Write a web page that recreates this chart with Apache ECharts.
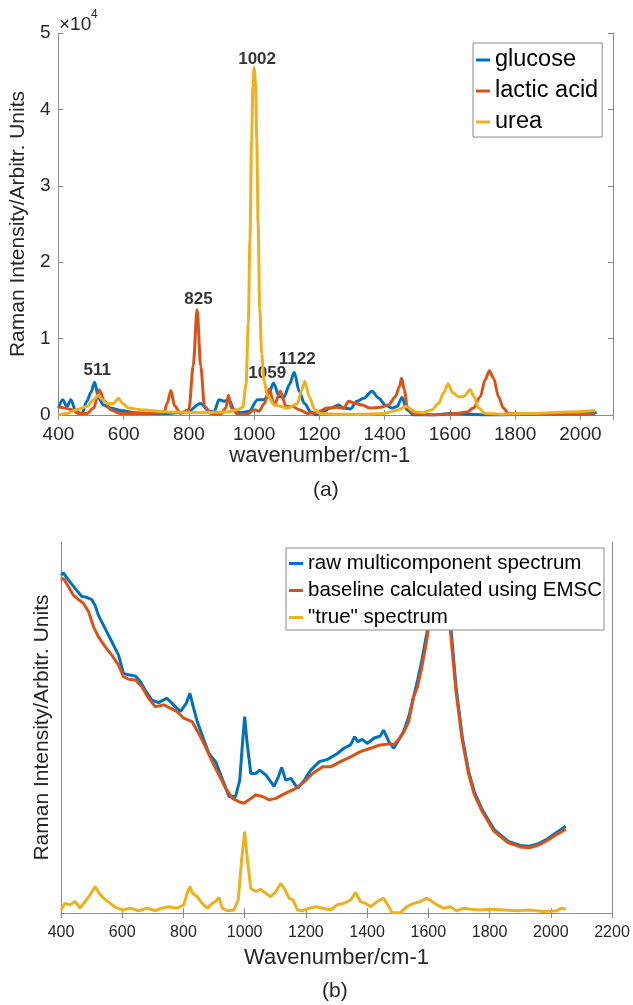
<!DOCTYPE html>
<html>
<head>
<meta charset="utf-8">
<script src="https://cdn.jsdelivr.net/npm/echarts@6/dist/echarts.min.js"></script>
<style>
html,body{margin:0;padding:0;background:#fff;}
#chart{width:633px;height:1005px;}
</style>
</head>
<body>
<div id="chart"></div>
<script>
// (a) reference spectra, intensity in units of 1e4
var glucose = [[400,0.09],[413,0.2],[426,0.11],[438,0.2],[454,0.04],[472,0.02],[487,0.18],[499,0.29],[511,0.43],[523,0.22],[538,0.13],[559,0.09],[590,0.06],[631,0.03],[682,0.02],[733,0.02],[795,0.04],[835,0.15],[862,0.05],[877,0.04],[892,0.2],[908,0.18],[923,0.2],[938,0.07],[959,0.03],[985,0.05],[1010,0.2],[1031,0.2],[1046,0.29],[1059,0.42],[1077,0.24],[1092,0.24],[1108,0.4],[1123,0.56],[1138,0.31],[1154,0.15],[1174,0.04],[1190,0.0],[1203,0.03],[1234,0.09],[1259,0.13],[1274,0.09],[1295,0.08],[1315,0.18],[1336,0.22],[1361,0.31],[1382,0.22],[1402,0.13],[1422,0.09],[1438,0.11],[1453,0.23],[1468,0.07],[1489,0.0],[1550,0.0],[1601,0.02],[1652,0.01],[1703,0.0],[1754,0.0],[1850,0.01],[1950,0.02],[2050,0.03]];
var lactic = [[400,0.11],[420,0.09],[441,0.07],[462,0.02],[487,0.02],[508,0.09],[525,0.33],[541,0.18],[559,0.07],[590,0.02],[680,0.02],[723,0.03],[733,0.15],[745,0.32],[756,0.12],[774,0.02],[800,0.07],[813,0.64],[825,1.38],[836,0.64],[848,0.11],[867,0.02],[897,0.01],[913,0.09],[921,0.26],[930,0.09],[949,0.01],[979,0.01],[1000,0.07],[1015,0.05],[1031,0.15],[1046,0.34],[1062,0.13],[1080,0.31],[1098,0.11],[1118,0.11],[1138,0.07],[1164,0.02],[1190,0.03],[1223,0.09],[1254,0.1],[1274,0.09],[1290,0.18],[1310,0.15],[1331,0.13],[1356,0.09],[1387,0.1],[1412,0.13],[1433,0.24],[1445,0.37],[1452,0.48],[1460,0.33],[1470,0.09],[1489,0.02],[1550,0.0],[1621,0.02],[1652,0.04],[1672,0.09],[1693,0.24],[1708,0.46],[1721,0.58],[1734,0.48],[1749,0.24],[1764,0.09],[1780,0.02],[1856,0.01],[1958,0.01],[2045,0.01]];
var urea = [[400,0.0],[426,0.02],[456,0.07],[487,0.11],[508,0.2],[522,0.26],[535,0.2],[549,0.15],[569,0.15],[584,0.22],[597,0.15],[615,0.09],[651,0.07],[733,0.04],[836,0.03],[918,0.04],[949,0.07],[965,0.1],[975,0.4],[982,1.2],[987,2.3],[992,3.6],[996,4.3],[1000,4.55],[1004,4.35],[1008,3.6],[1012,2.5],[1017,1.4],[1023,0.8],[1030,0.45],[1041,0.25],[1062,0.13],[1103,0.09],[1133,0.15],[1145,0.32],[1155,0.44],[1169,0.24],[1185,0.07],[1203,0.02],[1244,0.01],[1346,0.01],[1397,0.02],[1438,0.06],[1466,0.11],[1494,0.04],[1519,0.03],[1545,0.07],[1565,0.15],[1581,0.29],[1594,0.41],[1609,0.29],[1627,0.24],[1642,0.24],[1662,0.33],[1674,0.24],[1688,0.09],[1708,0.02],[1754,0.01],[1856,0.02],[1958,0.04],[2045,0.06]];

// peak annotations (text, label anchor wavenumber, label anchor intensity)
var peakText = ['511','825','1002','1059','1122'];
var peakX = [519, 829, 1009, 1040, 1132];
var peakY = [0.59, 1.52, 4.66, 0.54, 0.73];

// (b) EMSC example, arbitrary units
var rawSpec = [[400,91.1],[408,91.7],[424,89.8],[446,87.5],[468,85.3],[484,85.1],[500,84.5],[511,83.0],[522,80.3],[544,76.7],[566,73.1],[588,69.5],[604,64.6],[621,64.2],[643,63.9],[659,62.4],[675,60.1],[697,57.4],[719,56.7],[746,57.9],[768,56.1],[790,54.3],[809,56.5],[821,59.2],[832,55.6],[845,51.6],[861,48.0],[883,43.0],[905,40.8],[916,38.5],[932,35.0],[949,31.4],[970,31.4],[984,35.8],[992,44.8],[1000,52.9],[1007,46.6],[1020,37.6],[1036,37.6],[1049,38.5],[1069,37.2],[1096,34.1],[1110,36.7],[1121,39.2],[1134,35.8],[1151,36.3],[1173,33.6],[1195,35.8],[1216,38.5],[1244,40.8],[1271,41.4],[1303,43.0],[1324,44.4],[1346,45.3],[1359,47.5],[1370,46.2],[1384,46.8],[1400,45.7],[1422,47.1],[1443,47.7],[1454,49.3],[1471,46.2],[1487,44.4],[1503,46.6],[1519,48.9],[1536,52.9],[1552,58.3],[1565,62.8],[1579,68.2],[1595,75.4],[1606,81],[1620,88],[1635,93],[1648,95],[1660,91],[1667,84],[1673,77.5],[1691,60.5],[1711,47.4],[1731,38.4],[1751,32.4],[1779,27.4],[1816,22.4],[1861,19.3],[1900,18.2],[1930,18.0],[1960,18.7],[1990,20.0],[2020,21.8],[2049,23.4]];
var baseline = [[400,89.8],[408,90.2],[424,88.0],[440,85.7],[457,84.5],[473,83.5],[490,81.2],[506,77.2],[522,74.5],[544,71.8],[566,69.5],[588,66.8],[604,63.7],[621,63.0],[643,62.8],[664,61.0],[686,57.9],[708,55.6],[736,56.1],[757,55.2],[779,54.3],[801,52.5],[828,51.6],[850,48.4],[872,44.8],[894,40.8],[916,37.2],[938,33.6],[960,30.9],[981,30.0],[998,29.6],[1014,30.5],[1036,31.8],[1058,31.4],[1080,30.5],[1102,30.9],[1134,32.3],[1167,33.6],[1195,35.4],[1222,37.6],[1255,39.4],[1281,39.4],[1313,40.8],[1346,42.1],[1378,43.5],[1411,44.4],[1443,45.3],[1476,45.6],[1487,45.3],[1503,46.8],[1519,48.6],[1536,51.6],[1552,58.3],[1565,61.0],[1579,66.4],[1595,73.6],[1606,80],[1620,87],[1635,92],[1648,94],[1660,90],[1666,83],[1671,77],[1690,60],[1710,47],[1730,38],[1750,32],[1778,27],[1815,22],[1860,19],[1900,17.8],[1930,17.6],[1960,18.3],[1990,19.6],[2020,21.2],[2049,22.6]];
var trueSpec = [[400,0.8],[413,2.6],[430,2.2],[446,3.1],[462,1.3],[479,3.1],[495,4.9],[511,7.1],[525,5.3],[539,4.0],[561,2.6],[583,1.3],[604,0.8],[626,1.3],[654,0.6],[681,1.3],[708,0.6],[730,1.3],[752,1.7],[779,1.3],[801,2.2],[812,5.3],[821,7.1],[830,5.3],[845,4.4],[861,2.6],[878,1.3],[894,2.6],[905,3.1],[916,4.2],[927,1.3],[943,0.6],[965,0.8],[979,3.5],[990,14.3],[1000,21.9],[1009,14.3],[1020,6.6],[1036,5.8],[1052,6.4],[1069,5.3],[1085,4.4],[1102,5.8],[1118,8.0],[1132,6.2],[1145,4.0],[1158,3.5],[1173,0.8],[1189,0.6],[1211,1.3],[1233,1.7],[1255,1.3],[1281,0.8],[1302,2.2],[1324,2.6],[1346,3.5],[1362,5.5],[1378,3.1],[1395,2.6],[1411,1.7],[1433,3.1],[1454,4.0],[1471,1.7],[1481,0.1],[1509,0.1],[1530,1.7],[1552,2.6],[1574,3.1],[1595,4.0],[1612,3.1],[1628,2.2],[1650,1.3],[1671,1.7],[1693,0.6],[1715,1.3],[1736,1.0],[1769,0.8],[1801,1.0],[1845,0.8],[1889,0.6],[1932,0.8],[1975,0.4],[2019,0.6],[2035,1.3],[2049,1.0]];

var legendA = ['glucose','lactic acid','urea'];
var legendB = ['raw multicomponent spectrum','baseline calculated using EMSC','"true" spectrum'];

var BLUE='#0072BD', ORANGE='#D95319', YELLOW='#EDB120';
var AX='#8a8a8a', TXT='#262626', FONT='"Liberation Sans", Arial, sans-serif';

function plain(v){ return String(v); }

function lineSeries(name, data, color, xi, yi, smooth){
	return {
		name:name, type:'line', data:data, xAxisIndex:xi, yAxisIndex:yi,
		symbol:'none', smooth:smooth, smoothMonotone:'x', clip:true,
		lineStyle:{color:color, width:3},
		itemStyle:{color:color},
		emphasis:{disabled:true}, animation:false
	};
}
function boxAxis(gi, pos, min, max, interval, ticks){
	return {
		type:'value', gridIndex:gi, position:pos, min:min, max:max, interval:interval,
		axisLine:{show:true, lineStyle:{color:AX, width:1}},
		axisTick:{show:ticks, inside:true, length:5, lineStyle:{color:AX}},
		axisLabel:{show:false}, splitLine:{show:false}
	};
}

var chart = echarts.init(document.getElementById('chart'), null, {renderer:'canvas'});
var option = {
	animation:false,
	textStyle:{fontFamily:FONT},
	grid:[
		{left:58, top:33, width:555, height:382},
		{left:61, top:542, width:551, height:371}
	],
	xAxis:[
		{
			type:'value', gridIndex:0, position:'bottom', min:400, max:2100, interval:200,
			axisLine:{lineStyle:{color:AX}},
			axisTick:{inside:true, length:5, lineStyle:{color:AX}},
			axisLabel:{color:TXT, fontSize:19, margin:10, showMaxLabel:false, fontFamily:FONT, formatter:plain},
			splitLine:{show:false},
			name:'wavenumber/cm-1', nameLocation:'middle', nameGap:30,
			nameTextStyle:{color:TXT, fontSize:22, fontFamily:FONT, padding:[0,32,0,0]}
		},
		boxAxis(0,'top',400,2100,200,true),
		{
			type:'value', gridIndex:1, position:'bottom', min:400, max:2200, interval:200,
			axisLine:{lineStyle:{color:AX}},
			axisTick:{inside:true, length:5, lineStyle:{color:AX}},
			axisLabel:{color:TXT, fontSize:16, margin:12, fontFamily:FONT, formatter:plain},
			splitLine:{show:false},
			name:'Wavenumber/cm-1', nameLocation:'middle', nameGap:34,
			nameTextStyle:{color:TXT, fontSize:22, fontFamily:FONT}
		},
		boxAxis(1,'top',400,2200,200,true)
	],
	yAxis:[
		{
			type:'value', gridIndex:0, position:'left', min:0, max:5, interval:1,
			axisLine:{show:true, lineStyle:{color:AX}},
			axisTick:{show:true, inside:true, length:5, lineStyle:{color:AX}},
			axisLabel:{color:TXT, fontSize:19, margin:8, fontFamily:FONT, formatter:plain},
			splitLine:{show:false},
			name:'Raman Intensity/Arbitr. Units', nameLocation:'middle', nameGap:28,
			nameTextStyle:{color:TXT, fontSize:21, fontFamily:FONT}
		},
		boxAxis(0,'right',0,5,1,true),
		{
			type:'value', gridIndex:1, position:'left', min:0, max:100,
			axisLine:{show:true, lineStyle:{color:AX}},
			axisTick:{show:false}, axisLabel:{show:false}, splitLine:{show:false},
			name:'Raman Intensity/Arbitr. Units', nameLocation:'middle', nameGap:8,
			nameTextStyle:{color:TXT, fontSize:21, fontFamily:FONT}
		},
		boxAxis(1,'right',0,100,null,false)
	],
	legend:[
		{
			data:legendA, orient:'vertical', left:473, top:43,
			padding:[5,4,3,3], itemGap:7, itemWidth:14, itemHeight:3, icon:'rect',
			textStyle:{color:'#000', fontSize:23.5, lineHeight:23, fontFamily:FONT},
			borderColor:AX, borderWidth:1, backgroundColor:'#fff', selectedMode:false
		},
		{
			data:legendB, orient:'vertical', left:286, top:548,
			padding:[5,2,2,3], itemGap:6, itemWidth:14, itemHeight:3, icon:'rect',
			textStyle:{color:'#000', fontSize:20.5, lineHeight:20, fontFamily:FONT},
			borderColor:AX, borderWidth:1, backgroundColor:'#fff', selectedMode:false
		}
	],
	graphic:[
		{type:'text', left:59, top:15, style:{text:'×10', fill:TXT, font:'19px '+FONT}},
		{type:'text', left:91, top:9, style:{text:'4', fill:TXT, font:'12px '+FONT}},
		{type:'text', left:313, top:480, style:{text:'(a)', fill:TXT, font:'21px '+FONT}},
		{type:'text', left:322, top:981, style:{text:'(b)', fill:TXT, font:'21px '+FONT}}
	],
	series:[
		lineSeries('glucose', glucose, BLUE, 0, 0, 0.3),
		lineSeries('lactic acid', lactic, ORANGE, 0, 0, 0.3),
		lineSeries('urea', urea, YELLOW, 0, 0, 0.3),
		{
			type:'scatter', xAxisIndex:0, yAxisIndex:0, symbolSize:1, silent:true,
			itemStyle:{color:'rgba(0,0,0,0)'},
			data:peakX.map(function(x,i){ return [x, peakY[i], peakText[i]]; }),
			label:{show:true, position:'inside', formatter:function(p){ return p.data[2]; },
				color:'#000', fontWeight:'bold', fontSize:17, fontFamily:FONT},
			animation:false
		},
		lineSeries(legendB[0], rawSpec, BLUE, 2, 2, false),
		lineSeries(legendB[1], baseline, ORANGE, 2, 2, false),
		lineSeries(legendB[2], trueSpec, YELLOW, 2, 2, false)
	]
};
chart.setOption(option);
</script>
</body>
</html>
